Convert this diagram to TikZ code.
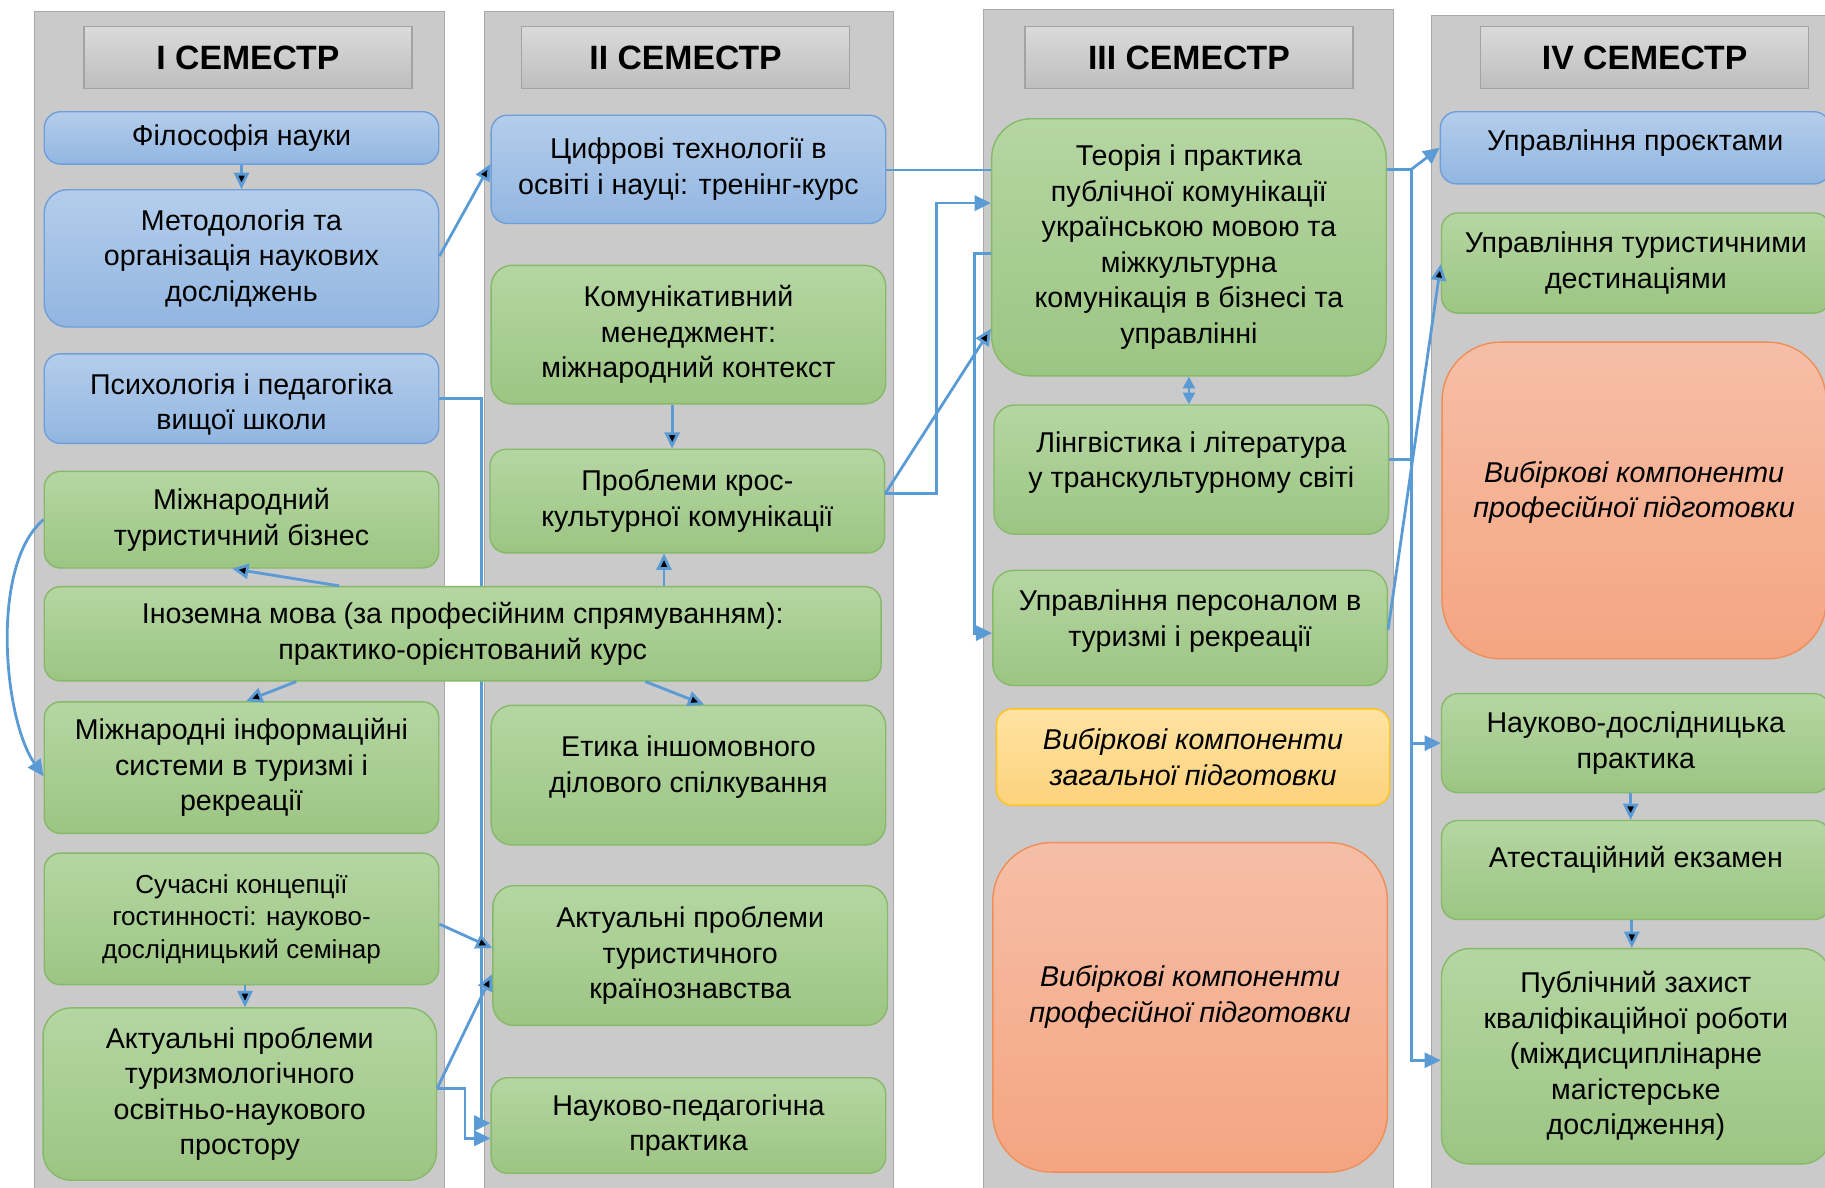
\documentclass[tikz,border=0pt]{standalone}
\usepackage{fontspec}
\setmainfont{Liberation Sans}
\usetikzlibrary{arrows.meta}

\definecolor{colfill}{HTML}{CACACA}
\definecolor{colline}{HTML}{A8A8A8}
\definecolor{headtop}{HTML}{DADADA}
\definecolor{headbot}{HTML}{BEBEBE}
\definecolor{headline}{HTML}{A3A3A3}
\definecolor{bluetop}{HTML}{B4CDEB}
\definecolor{bluebot}{HTML}{92B6E1}
\definecolor{blueline}{HTML}{6E9FDA}
\definecolor{greentop}{HTML}{B5D6A2}
\definecolor{greenbot}{HTML}{9CC583}
\definecolor{greenline}{HTML}{86B968}
\definecolor{goldtop}{HTML}{FFE3A3}
\definecolor{goldbot}{HTML}{FDD27C}
\definecolor{goldline}{HTML}{FFC31A}
\definecolor{salmontop}{HTML}{F6BEA7}
\definecolor{salmonbot}{HTML}{F4A581}
\definecolor{salmonline}{HTML}{EF8E58}
\definecolor{linkblue}{HTML}{5B9BD5}

\begin{document}
\begin{tikzpicture}[x=0.5pt,y=-0.5pt,>={Triangle[length=7pt,width=6.5pt]},
  course/.style={rectangle,rounded corners=7pt,line width=0.6pt,align=center,inner sep=2pt,
    minimum width=169.5pt,font=\fontsize{12.3}{15.25}\selectfont},
  boxtext/.style={align=center,inner sep=0pt,font=\fontsize{12.3}{15.25}\selectfont},
  elective/.style={boxtext,font=\itshape\fontsize{12.3}{15.25}\selectfont},
  blue node/.style={course,draw=blueline,fill=bluebot,top color=bluetop,bottom color=bluebot},
  green node/.style={course,draw=greenline,fill=greenbot,top color=greentop,bottom color=greenbot},
  gold node/.style={course,draw=goldline,fill=goldbot,top color=goldtop,bottom color=goldbot,
    font=\itshape\fontsize{12.3}{15.25}\selectfont},
  salmon node/.style={course,rounded corners=25pt,draw=salmonline,fill=salmonbot,top color=salmontop,
    bottom color=salmonbot},
  head node/.style={rectangle,draw=headline,line width=0.6pt,top color=headtop,bottom color=headbot,
    minimum width=141pt,minimum height=26.5pt,font=\bfseries\fontsize{14.5}{16}\selectfont},
  col/.style={draw=colline,fill=colfill,line width=0.5pt},
  link/.style={draw=linkblue,line width=1.2pt}]

  \useasboundingbox (0,0) rectangle (1568,1020);
  \clip (0,0) rectangle (1568,1020);

  % semester columns
  \path[col] (30,10) rectangle (382,1040);
  \path[col] (416,10) rectangle (768,1040);
  \path[col] (845,8) rectangle (1197,1040);
  \path[col] (1230,13) rectangle (1600,1040);

  \node[head node] (h1) at (213,49.5) {І СЕМЕСТР};
  \node[head node] (h2) at (589,49.5) {ІІ СЕМЕСТР};
  \node[head node] (h3) at (1021.5,49.5) {ІІІ СЕМЕСТР};
  \node[head node] (h4) at (1413,49.5) {IV СЕМЕСТР};

  % I semester
  \node[blue node,minimum height=22.5pt] (phil) at (207.5,118.5) {Філософія науки};
  \node[blue node,minimum height=59pt,rounded corners=10pt] (meth) at (207.5,222)
    {Методологія та\\організація наукових\\досліджень};
  \node[blue node,minimum height=38.5pt,
    label={[boxtext,yshift=-2.5pt]center:{Психологія і педагогіка\\вищої школи}}] (psych) at (207.5,342.5) {};
  \node[green node,minimum height=41.5pt] (bis) at (207.5,446.5)
    {Міжнародний\\туристичний бізнес};
  \node[green node,minimum height=56.5pt] (infsys) at (207.5,659.5)
    {Міжнародні інформаційні\\системи в туризмі і\\рекреації};
  \node[green node,minimum height=56.5pt,font=\fontsize{11.2}{14}\selectfont] (hosp) at (207.5,789.5)
    {Сучасні концепції\\гостинності: науково-\\дослідницький семінар};
  \node[green node,minimum width=169pt,minimum height=74pt,rounded corners=12pt] (tourspace) at (206,940)
    {Актуальні проблеми\\туризмологічного\\освітньо-наукового\\простору};

  % II semester
  \node[blue node,minimum height=46.5pt] (digit) at (591.5,145.5)
    {Цифрові технології в\\освіті і науці: тренінг-курс};
  \node[green node,minimum height=59.5pt,rounded corners=9pt] (commgt) at (591.5,287.5)
    {Комунікативний\\менеджмент:\\міжнародний контекст};
  \node[green node,minimum height=44.5pt] (cross) at (590.5,430.5)
    {Проблеми крос-\\культурної комунікації};
  \node[green node,minimum height=60pt,rounded corners=9pt,
    label={[boxtext,yshift=3.5pt]center:{Етика іншомовного\\ділового спілкування}}] (ethics) at (591.5,666) {};
  \node[green node,minimum height=60pt,rounded corners=9pt] (country) at (593,821)
    {Актуальні проблеми\\туристичного\\країнознавства};
  \node[green node,minimum height=41pt] (teachpr) at (591.5,967)
    {Науково-педагогічна\\практика};

  % runs behind the wide box
  \draw[link,->] (psych.east) -- ++(36,0) |- ([yshift=1pt]teachpr.west);

  \node[green node,minimum width=359.5pt,minimum height=40.5pt] (foreign) at (397.5,544.5)
    {Іноземна мова (за професійним спрямуванням):\\практико-орієнтований курс};

  % III semester
  \node[green node,minimum height=110.5pt,rounded corners=17pt] (pubcom) at (1021.5,212.5)
    {Теорія і практика\\публічної комунікації\\українською мовою та\\міжкультурна\\комунікація в бізнесі та\\управлінні};
  \node[green node,minimum height=55.5pt,rounded corners=9pt,
    label={[boxtext,yshift=3pt]center:{Лінгвістика і література\\у транскультурному світі}}] (ling) at (1023.5,403.5) {};
  \node[green node,minimum height=49.5pt,rounded corners=9pt,
    label={[boxtext,yshift=3pt]center:{Управління персоналом в\\туризмі і рекреації}}] (staff) at (1022.5,539.5) {};
  \node[gold node,minimum width=169pt,minimum height=41.5pt] (genel) at (1025,650.5)
    {Вибіркові компоненти\\загальної підготовки};
  \node[salmon node,minimum height=141.5pt,
    label={[elective,yshift=4.5pt]center:{Вибіркові компоненти\\професійної підготовки}}] (profel3) at (1022.5,865.5) {};

  % IV semester
  \node[blue node,minimum width=167.5pt,minimum height=31pt,
    label={[boxtext,yshift=2pt]center:Управління проєктами}] (project) at (1405,127) {};
  \node[green node,minimum width=167pt,minimum height=43pt] (destin) at (1405.5,226)
    {Управління туристичними\\дестинаціями};
  \node[salmon node,minimum width=165pt,minimum height=136pt,
    label={[elective,yshift=3.5pt]center:{Вибіркові компоненти\\професійної підготовки}}] (profel4) at (1404,430) {};
  \node[green node,minimum width=167pt,minimum height=42.5pt] (respr) at (1405.5,638.5)
    {Науково-дослідницька\\практика};
  \node[green node,minimum width=167pt,minimum height=42.5pt,
    label={[boxtext,yshift=4.5pt]center:Атестаційний екзамен}] (exam) at (1405.5,747.5) {};
  \node[green node,minimum width=167pt,minimum height=92.5pt,rounded corners=12pt] (defence) at (1405.5,907.5)
    {Публічний захист\\кваліфікаційної роботи\\(міждисциплінарне\\магістерське\\дослідження)};

  % links
  \path[link]
    (phil) edge[->] (meth)
    ([yshift=1pt]meth.east) edge[->] ([yshift=2.25pt]digit.west)
    ([xshift=-53pt]foreign.north) edge[->] ([xshift=-4pt]bis.south)
    ([xshift=-71.5pt]foreign.south) edge[->] ([xshift=2pt]infsys.north)
    ([xshift=78.5pt]foreign.south) edge[->] ([xshift=6.75pt]ethics.north)
    ([xshift=-10pt]cross.south |- foreign.north) edge[->] ([xshift=-10pt]cross.south)
    ([xshift=-7pt]commgt.south) edge[->] ([xshift=-7pt]commgt.south |- cross.north)
    ([xshift=1.5pt]hosp.south) edge[->] ([xshift=1.5pt]hosp.south |- tourspace.north)
    ([yshift=-2.25pt]hosp.east) edge[->] ([yshift=3.25pt]country.west)
    ([yshift=2.5pt]tourspace.east) edge[->] ([yshift=-8pt]country.west)
    ([yshift=3.25pt]cross.east) edge[->] ([yshift=-35pt]pubcom.west)
    ([yshift=-0.75pt]staff.east) edge[->] ([yshift=-0.5pt]destin.west)
    ([xshift=-2.25pt]respr.south) edge[->] ([xshift=-2.25pt]respr.south |- exam.north)
    ([xshift=-1.75pt]exam.south) edge[->] ([xshift=-1.75pt]exam.south |- defence.north);

  \draw[link,->] (bis.west) to[out=220,in=125,looseness=0.7] ([yshift=-3.75pt]infsys.west);
  \draw[link,->] ([yshift=2.5pt]tourspace.east) -- ++(24,0) |- ([yshift=-5.5pt]teachpr.west);
  \draw[link] ([yshift=-0.25pt]digit.east) -- ([yshift=-0.25pt]digit.east -| pubcom.west);
  \draw[link,->] ([yshift=3.25pt]cross.east) -- ++(44,0) |- ([yshift=19pt]pubcom.west);
  \draw[link,->] ([yshift=-2.75pt]pubcom.west) -- ++(-14,0) |- ([yshift=-2.25pt]staff.west);
  \draw[link,{Triangle[length=5pt,width=5pt]}-{Triangle[length=5pt,width=5pt]}]
    (pubcom.south) -- (pubcom.south |- ling.north);
  \draw[link] (pubcom.east |- digit.east) -- ++(21,0) coordinate (fork);
  \draw[link,->] (fork) -- (project.west);
  \draw[link,->] (fork) |- (respr.west);
  \draw[link,->] (fork) |- ([yshift=-1.75pt]defence.west);
  \draw[link] ([yshift=4.5pt]ling.east) -- ([yshift=4.5pt]ling.east -| fork);
\end{tikzpicture}
\end{document}
